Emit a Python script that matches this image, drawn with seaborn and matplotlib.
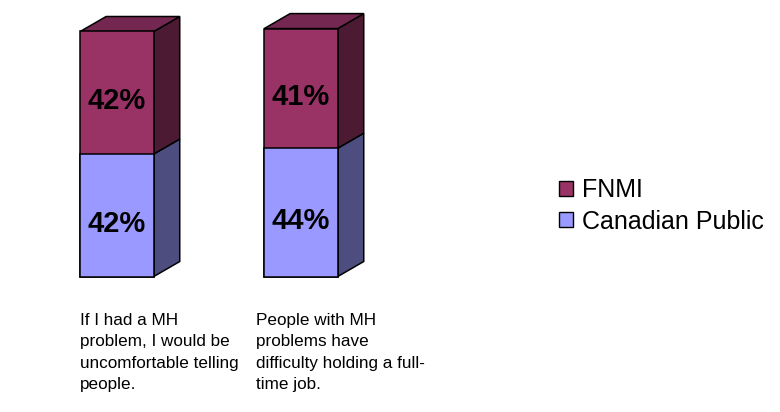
import matplotlib
matplotlib.use("Agg")
import matplotlib.pyplot as plt
from matplotlib.patches import Polygon, Patch
import seaborn as sns
import pandas as pd

# Survey statements and stacked shares (%)
categories = [
    "If I had a MH\nproblem, I would be\nuncomfortable telling\npeople.",
    "People with MH\nproblems have\ndifficulty holding a full-\ntime job.",
]
canadian_public = [42, 44]
fnmi = [42, 41]
series_names = ["FNMI", "Canadian Public"]

# Face colours (front, side, top) for each series
FNMI_FRONT, FNMI_SIDE, FNMI_TOP = "#993366", "#4D1A33", "#742750"
CP_FRONT, CP_SIDE, CP_TOP = "#9999FF", "#4D4D80", "#7373BF"

sns.set_theme(style="white")
plt.rcParams["font.family"] = ["Liberation Sans", "DejaVu Sans"]
plt.rcParams["text.color"] = "black"

W, H = 780, 412
fig = plt.figure(figsize=(W / 100, H / 100), dpi=100)
ax = fig.add_axes([25 / W, 135.5 / H, 368 / W, 262.5 / H])

df = pd.DataFrame({
    "key": [f"s{i}" for i in range(len(categories))],
    "canadian": canadian_public,
    "total": [c + f for c, f in zip(canadian_public, fnmi)],
})

bar_w = 0.40
depth_x, depth_y = 0.141, 5.14  # oblique depth of the 3D boxes

# Depth faces first so the front faces sit on top of them
for i, (c, f) in enumerate(zip(canadian_public, fnmi)):
    xl, xr = i - bar_w / 2, i + bar_w / 2
    t = c + f
    faces = [
        ([(xr, 0), (xr + depth_x, depth_y), (xr + depth_x, c + depth_y), (xr, c)], CP_SIDE),
        ([(xr, c), (xr + depth_x, c + depth_y), (xr + depth_x, t + depth_y), (xr, t)], FNMI_SIDE),
        ([(xl, t), (xl + depth_x, t + depth_y), (xr + depth_x, t + depth_y), (xr, t)], FNMI_TOP),
    ]
    for pts, col in faces:
        ax.add_patch(Polygon(pts, closed=True, facecolor=col, edgecolor="black",
                             linewidth=1.1, clip_on=False, zorder=1))

# Front faces: full stack in FNMI colour, lower part overdrawn in Canadian Public colour
sns.barplot(data=df, x="key", y="total", color=FNMI_FRONT, saturation=1,
            width=bar_w, edgecolor="black", linewidth=1.1, ax=ax, zorder=2)
sns.barplot(data=df, x="key", y="canadian", color=CP_FRONT, saturation=1,
            width=bar_w, edgecolor="black", linewidth=1.1, ax=ax, zorder=3)
for p in ax.patches:
    p.set_clip_on(False)

# Value labels
for i, (c, f) in enumerate(zip(canadian_public, fnmi)):
    for y, v in ((c / 2, c), (c + f / 2, f)):
        ax.annotate(f"{v}%", (i, y), xytext=(0, -6), textcoords="offset points",
                    ha="center", va="center", fontsize=21, fontweight="bold",
                    color="black", zorder=5)

# Category captions below the bars, left aligned
for i, (txt, dx) in enumerate(zip(categories, [-0.20, -0.245])):
    ax.text(i + dx, -0.14, txt, transform=ax.get_xaxis_transform(),
            ha="left", va="top", fontsize=12.3, linespacing=1.52, color="black")

ax.set_xlim(-0.5, 1.5)
ax.set_ylim(0, 90)
ax.axis("off")

handles = [Patch(facecolor=FNMI_FRONT, edgecolor="black", linewidth=1),
           Patch(facecolor=CP_FRONT, edgecolor="black", linewidth=1)]
fig.legend(handles, series_names, loc="center left",
           bbox_to_anchor=(559 / W, (H - 206) / H), bbox_transform=fig.transFigure,
           frameon=False, fontsize=18, handlelength=0.55, handleheight=0.55,
           handletextpad=0.35, labelspacing=0.3, borderpad=0, borderaxespad=0,
           labelcolor="black")

fig.savefig("out.png", dpi=100)
